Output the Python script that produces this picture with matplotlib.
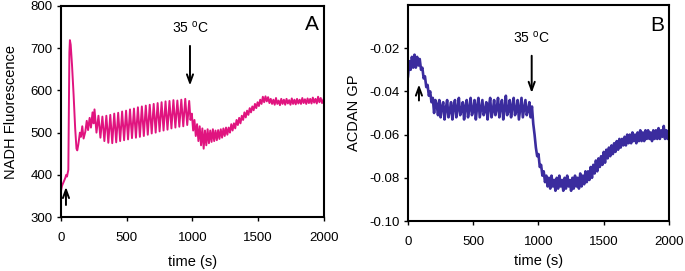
import matplotlib
matplotlib.use('Agg')
import matplotlib.pyplot as plt
import numpy as np

plt.rcParams['font.family'] = ['Liberation Sans', 'DejaVu Sans']
plt.rcParams['mathtext.fontset'] = 'custom'
plt.rcParams['mathtext.rm'] = 'Liberation Sans'

# ---- Panel A: NADH fluorescence ----
# start-up and glucose spike (irregular sampling)
time_a_start = [0, 8, 16, 24, 32, 40, 46, 52, 56, 60, 64, 68, 74, 84, 96, 108, 118, 124, 132,
                144, 152, 162, 172, 185, 196, 206, 218, 228, 240, 248]
nadh_start = [362, 374, 380, 386, 392, 400, 396, 406, 412, 560, 690, 719, 708, 660, 590, 510, 462, 458, 472,
              500, 490, 515, 486, 502, 528, 506, 535, 512, 548, 522]

# oscillations, peak/trough every 15 s
time_a_osc = [255, 270, 285, 300, 315, 330, 345, 360, 375, 390, 405, 420, 435, 450, 465, 480, 495,
              510, 525, 540, 555, 570, 585, 600, 615, 630, 645, 660, 675, 690, 705, 720, 735, 750,
              765, 780, 795, 810, 825, 840, 855, 870, 885, 900, 915, 930, 945, 960, 975]
nadh_osc = [555, 500, 540, 488, 538, 480, 540, 476, 542, 475, 545, 477, 547, 480, 550, 482, 552,
            484, 555, 487, 557, 488, 560, 490, 562, 492, 564, 495, 566, 498, 568, 500, 570, 503,
            572, 505, 574, 507, 575, 510, 577, 512, 576, 514, 578, 515, 580, 518, 575]

# after temperature step, sampled every 10 s
time_a_end = np.arange(985, 2000, 10)
nadh_end = [530, 545, 505, 530, 492, 520, 480, 515, 470, 510, 462, 505, 470, 508, 475, 505, 478, 508,
            480, 505, 482, 506, 485, 508, 488, 510, 492, 512,
            495, 512, 500, 520, 505, 522, 510, 530, 518, 535,
            522, 540, 530, 548, 536, 552, 542, 558, 548, 562,
            553, 568, 558, 572, 563, 578, 568, 585, 572, 586,
            574, 584, 570, 580, 568, 578, 566, 582, 568, 576,
            565, 580, 568, 578, 566, 580, 569, 577, 566, 581,
            568, 578, 567, 580, 569, 578, 568, 582, 570, 579,
            568, 581, 570, 580, 569, 583, 571, 580, 569, 585,
            572, 582, 570, 578]

time_a = np.concatenate([time_a_start, time_a_osc, time_a_end])
nadh = np.concatenate([nadh_start, nadh_osc, nadh_end])

# ---- Panel B: ACDAN GP, sampled every 10 s ----
time_b = np.arange(0, 2001, 10)
acdan_gp = [-0.033, -0.026, -0.030, -0.024, -0.029, -0.023, -0.029, -0.024, -0.028, -0.025,
            -0.030, -0.029, -0.034, -0.033, -0.038, -0.037, -0.042, -0.040, -0.045, -0.043,
            -0.050, -0.044,
            -0.046, -0.051, -0.044, -0.052, -0.047, -0.045, -0.053, -0.048, -0.044, -0.052,
            -0.049, -0.045, -0.053, -0.047, -0.044, -0.052, -0.048, -0.043, -0.051, -0.049,
            -0.045, -0.053, -0.047, -0.044, -0.052, -0.048, -0.043, -0.051, -0.049, -0.044,
            -0.053, -0.047, -0.043, -0.052, -0.048, -0.044, -0.051, -0.049, -0.045, -0.053,
            -0.047, -0.043, -0.052, -0.049, -0.044, -0.051, -0.048, -0.043, -0.052, -0.047,
            -0.044, -0.053, -0.048, -0.042, -0.051, -0.049, -0.044, -0.052, -0.047, -0.043,
            -0.051, -0.049, -0.044, -0.053, -0.048, -0.043, -0.052, -0.048, -0.044, -0.051,
            -0.049, -0.045, -0.052,
            -0.047, -0.055, -0.060, -0.066, -0.070, -0.069, -0.075, -0.074, -0.079, -0.077,
            -0.082, -0.079, -0.084, -0.080, -0.085, -0.079, -0.084, -0.081, -0.086, -0.080,
            -0.085, -0.079, -0.084, -0.081, -0.086, -0.080, -0.085, -0.079, -0.084, -0.081,
            -0.086, -0.080, -0.085, -0.079, -0.084, -0.080, -0.085, -0.078, -0.084, -0.079,
            -0.083, -0.077, -0.082, -0.077, -0.081, -0.075, -0.080, -0.074, -0.078, -0.072,
            -0.077, -0.071, -0.075, -0.070, -0.074, -0.068, -0.073, -0.067, -0.071, -0.066,
            -0.070, -0.065, -0.069, -0.064, -0.068, -0.063, -0.067, -0.062, -0.066, -0.062,
            -0.065, -0.061, -0.065, -0.060, -0.064, -0.060, -0.064, -0.059, -0.063, -0.060,
            -0.064, -0.059, -0.063, -0.058, -0.063, -0.059, -0.063, -0.058, -0.062, -0.058,
            -0.062, -0.059, -0.063, -0.058, -0.062, -0.058, -0.062, -0.057, -0.062, -0.058,
            -0.061, -0.056, -0.062, -0.058, -0.062, -0.060]

fig = plt.figure(figsize=(6.85, 2.71), dpi=100)
ax_a = fig.add_axes([0.089, 0.199, 0.384, 0.779])
ax_b = fig.add_axes([0.5956, 0.1845, 0.381, 0.797])

ax_a.plot(time_a, nadh, color='#E0147F', lw=1.4)
ax_b.plot(time_b, acdan_gp, color='#3B2C9E', lw=1.9)

ax_a.set_xlim(0, 2000)
ax_a.set_ylim(300, 800)
ax_a.set_yticks([300, 400, 500, 600, 700, 800])
ax_b.set_xlim(0, 2000)
ax_b.set_ylim(-0.1, 0.0)
ax_b.set_yticks([-0.10, -0.08, -0.06, -0.04, -0.02])
ax_b.set_yticklabels(['-0.10', '-0.08', '-0.06', '-0.04', '-0.02'])

for ax in (ax_a, ax_b):
    ax.set_xticks([0, 500, 1000, 1500, 2000])
    ax.tick_params(direction='out', length=3, width=1, labelsize=9.5, top=False, right=False)
    ax.tick_params(axis='x', pad=8)
    ax.tick_params(axis='y', pad=3)
    for sp in ax.spines.values():
        sp.set_linewidth(1.5)
        sp.set_color('black')

ax_a.set_xlabel('time (s)', fontsize=10.5, labelpad=8)
ax_b.set_xlabel('time (s)', fontsize=10.5, labelpad=4)
ax_a.set_ylabel('NADH Fluorescence', fontsize=10.5, labelpad=9)
ax_b.set_ylabel('ACDAN GP', fontsize=10.5, labelpad=6)

arrow = dict(arrowstyle='->,head_length=0.6,head_width=0.22', lw=1.4, color='black')
ax_a.annotate('', xy=(38, 378), xytext=(38, 322), arrowprops=arrow)
ax_a.annotate('', xy=(981, 605), xytext=(981, 712), arrowprops=arrow)
ax_a.text(985, 748, '35 $^{\\mathrm{o}}$C', fontsize=10, ha='center', va='center')
ax_a.text(1960, 755, 'A', fontsize=15, ha='right', va='center')

ax_b.annotate('', xy=(84, -0.0355), xytext=(84, -0.0455), arrowprops=arrow)
ax_b.annotate('', xy=(948, -0.042), xytext=(948, -0.0222), arrowprops=arrow)
ax_b.text(945, -0.0152, '35 $^{\\mathrm{o}}$C', fontsize=10, ha='center', va='center')
ax_b.text(1960, -0.0093, 'B', fontsize=15, ha='right', va='center')

fig.savefig('out.png', dpi=100)
